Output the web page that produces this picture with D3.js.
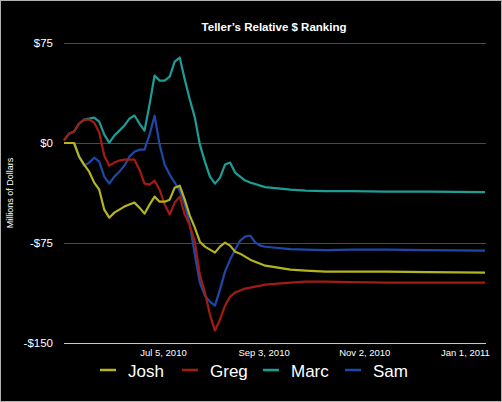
<!DOCTYPE html>
<html>
<head>
<meta charset="utf-8">
<script src="https://cdn.jsdelivr.net/npm/d3@7"></script>
<style>
  body { margin: 0; background: #000; }
  svg { display: block; font-family: "Liberation Sans", Arial, sans-serif; }
</style>
</head>
<body>
<script>
// sample dates (every 3 days through early Sept, sparser afterwards)
const dates = [
  '2010-05-07','2010-05-10','2010-05-13','2010-05-16','2010-05-19','2010-05-22','2010-05-25','2010-05-28',
  '2010-05-31','2010-06-03','2010-06-06','2010-06-09','2010-06-12','2010-06-15','2010-06-18','2010-06-21',
  '2010-06-24','2010-06-27','2010-06-30','2010-07-03','2010-07-06','2010-07-09','2010-07-12','2010-07-15',
  '2010-07-18','2010-07-21','2010-07-24','2010-07-27','2010-07-30','2010-08-02','2010-08-05','2010-08-08',
  '2010-08-11','2010-08-14','2010-08-17','2010-08-20','2010-08-23','2010-08-26','2010-08-29','2010-09-01',
  '2010-09-04','2010-09-19','2010-09-28','2010-10-10','2010-10-25','2010-11-15','2010-12-10','2011-01-13'
];

const josh = [0, 0, 0, -10.2, -16.2, -21.5, -29.7, -35.0,
  -50.0, -56.0, -52.2, -50.0, -47.7, -46.2, -44.7, -48.5,
  -53.0, -46.2, -40.2, -44.0, -44.0, -42.5, -33.5, -32.0,
  -42.5, -54.5, -63.5, -74.0, -77.7, -80.0, -82.2, -77.7,
  -74.7, -77.0, -81.5, -83.0, -85.2, -87.5, -89.0, -90.5,
  -92.0, -95.0, -95.7, -96.5, -96.5, -96.5, -96.8, -97.2];

const greg = [2, 7.0, 8.6, 14.6, 17.6, 17.6, 15.3, 7.8,
  -9.5, -17.0, -14.7, -13.2, -12.5, -12.5, -12.5, -20.0,
  -30.5, -31.2, -28.2, -35.0, -46.2, -53.7, -44.7, -40.2,
  -53.7, -62.0, -74.0, -98.7, -112.2, -128.7, -140.7, -132.5,
  -122.0, -115.2, -112.2, -110.7, -109.2, -108.5, -107.7, -107.0,
  -106.2, -104.7, -104.0, -104.0, -104.3, -104.7, -104.7, -104.7];

const marc = [2, 7.0, 8.6, 14.6, 17.6, 18.3, 19.1, 16.1,
  6.3, 0.3, 5.6, 9.3, 13.1, 18.3, 20.6, 14.6,
  9.3, 28.8, 50.6, 46.8, 46.8, 49.8, 61.1, 64.1,
  47.6, 32.6, 19.1, -1.2, -14.0, -25.2, -30.5, -26.0,
  -16.2, -14.7, -22.2, -25.2, -28.2, -29.7, -30.8, -32.0,
  -33.1, -35.0, -35.7, -36.1, -36.1, -36.5, -36.5, -36.8];

const sam = [0, 0, 0, -10.2, -17.0, -14.7, -11.0, -14.0,
  -25.2, -30.5, -25.2, -21.5, -17.0, -10.2, -6.5, -5.0,
  -5.0, 6.3, 20.5, -1.2, -16.2, -23.7, -29.7, -35.7,
  -46.2, -61.2, -83.7, -104.7, -114.5, -119.0, -122.0, -110.0,
  -96.5, -87.5, -80.0, -73.2, -70.2, -69.4, -74.5, -77.0,
  -77.8, -79.6, -80.0, -80.3, -80.0, -80.0, -80.3, -80.7];

const names = ['Josh', 'Greg', 'Marc', 'Sam'];
const colors = ['#b4b41e', '#a31c12', '#1c9d98', '#1d48a8'];
const yTicks = [75, 0, -75, -150];
const xTicks = ['2010-07-05', '2010-09-03', '2010-11-02', '2011-01-01'];

const svgSize = {'width': 502, 'height': 402};
const plot = {left: 64, right: 485, top: 43, bottom: 343};

const parse = d3.timeParse('%Y-%m-%d');
const xDates = dates.map(parse);
const seriesList = [josh, greg, marc, sam];

var svg = d3.select('body').append('svg')
  .attr('width', svgSize.width)
  .attr('height', svgSize.height);

svg.append('rect')
  .attr('x', 0.5).attr('y', 0.5)
  .attr('width', svgSize.width - 1).attr('height', svgSize.height - 1)
  .attr('fill', '#000')
  .attr('stroke', '#b0b0b0');

var x = d3.scaleTime()
  .domain(d3.extent(xDates))
  .range([plot.left, plot.right]);

var y = d3.scaleLinear()
  .domain([-150, 75])
  .range([plot.bottom, plot.top]);

// grid lines + y labels
svg.append('g').selectAll('line')
  .data(yTicks)
  .enter().append('line')
  .attr('x1', plot.left).attr('x2', 486)
  .attr('y1', (d) => y(d) + 0.5).attr('y2', (d) => y(d) + 0.5)
  .attr('stroke', (d) => d === -150 ? '#c8c8c8' : '#4a4a4a')
  .attr('stroke-width', 1);

svg.append('g').selectAll('text')
  .data(yTicks)
  .enter().append('text')
  .attr('x', 53)
  .attr('y', (d) => y(d) + 4)
  .attr('text-anchor', 'end')
  .attr('fill', '#fff')
  .style('font-size', '11.5px')
  .text((d) => (d < 0 ? '-$' + Math.abs(d) : '$' + d));

// x axis labels
var xAxis = d3.axisBottom(x)
  .tickValues(xTicks.map(parse))
  .tickFormat(d3.timeFormat('%b %-d, %Y'))
  .tickSize(0)
  .tickPadding(0);

var xg = svg.append('g')
  .attr('transform', `translate(0, ${plot.bottom + 6})`)
  .call(xAxis);
xg.select('.domain').remove();
xg.selectAll('text')
  .attr('fill', '#fff')
  .style('font-size', '9.5px')
  .style('font-family', '"Liberation Sans", Arial, sans-serif');

// lines, drawn so Josh ends on top
var line = d3.line()
  .x((d, i) => x(xDates[i]))
  .y((d) => y(d));

for (let k = seriesList.length - 1; k >= 0; k--) {
  svg.append('path')
    .datum(seriesList[k])
    .attr('fill', 'none')
    .attr('stroke', colors[k])
    .attr('stroke-width', 2.2)
    .attr('stroke-linejoin', 'round')
    .attr('d', line);
}

// title
svg.append('text')
  .attr('x', 274)
  .attr('y', 31)
  .attr('text-anchor', 'middle')
  .attr('fill', '#fff')
  .style('font-size', '11.5px')
  .style('font-weight', 'bold')
  .text("Teller\u2019s Relative $ Ranking");

svg.append('text')
  .attr('transform', 'rotate(-90)')
  .attr('x', -193)
  .attr('y', 13)
  .attr('text-anchor', 'middle')
  .attr('fill', '#fff')
  .style('font-size', '9px')
  .text('Millions of Dollars');

// legend
var legendX = [100, 182, 263, 345];
var legend = svg.append('g').selectAll('g')
  .data(names)
  .enter().append('g')
  .attr('transform', (d, i) => `translate(${legendX[i]}, 370)`);

legend.append('line')
  .attr('x1', 0).attr('x2', 16)
  .attr('y1', 0).attr('y2', 0)
  .attr('stroke', (d, i) => colors[i])
  .attr('stroke-width', 2.5);

legend.append('text')
  .attr('x', 28)
  .attr('y', 7)
  .attr('fill', '#fff')
  .style('font-size', '17px')
  .text((d) => d);
</script>
</body>
</html>
